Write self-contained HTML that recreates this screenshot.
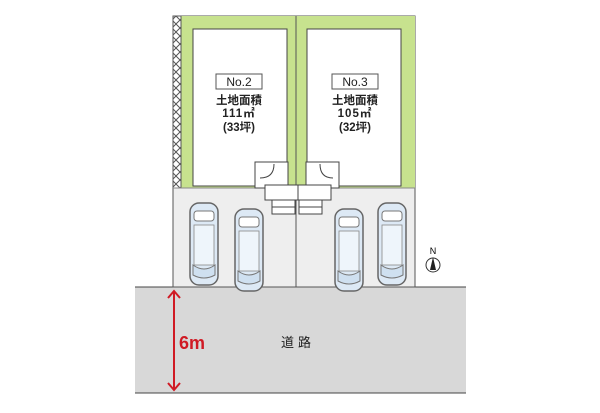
<!DOCTYPE html><html><head><meta charset="utf-8"><style>
body{margin:0;background:#fff;width:600px;height:408px;overflow:hidden;font-family:"Liberation Sans","Noto Sans CJK JP",sans-serif}
</style></head><body>
<svg width="600" height="408" xmlns="http://www.w3.org/2000/svg">
<defs><pattern id="h" width="8" height="8" patternUnits="userSpaceOnUse"><rect width="8" height="8" fill="#fff"/><path d="M0 0L8 8M8 0L0 8" stroke="#555" stroke-width="1"/></pattern>
<g id="car"><rect x="0" y="0" width="28" height="82" rx="9" fill="#dde9f5" stroke="#666" stroke-width="1.5"/><rect x="4" y="8" width="20" height="10" rx="3" fill="#fff" stroke="#777"/><rect x="4" y="22" width="20" height="40" fill="#eef5fb" stroke="#888" stroke-width="0.8"/><path d="M3 62Q14 70 25 62L25 72Q14 78 3 72Z" fill="#cfe0f0" stroke="#777"/></g></defs>
<rect x="135" y="287" width="331" height="106" fill="#d8d8d8"/>
<line x1="135" y1="287" x2="466" y2="287" stroke="#444"/>
<line x1="135" y1="393" x2="466" y2="393" stroke="#444"/>
<rect x="173" y="16" width="242" height="271" fill="#eeeeee" stroke="#555"/>
<rect x="181" y="16" width="234" height="172" fill="#c7e28e"/>
<rect x="173" y="16" width="8" height="172" fill="url(#h)" stroke="#555"/>
<line x1="173" y1="188" x2="415" y2="188" stroke="#888"/>
<line x1="296" y1="16" x2="296" y2="287" stroke="#555"/>
<rect x="193" y="29" width="94" height="157" fill="#fff" stroke="#444"/>
<rect x="307" y="29" width="94" height="157" fill="#fff" stroke="#444"/>
<g fill="#fff" stroke="#444"><rect x="255" y="162" width="33" height="26"/><rect x="265" y="185" width="33" height="15"/><rect x="272" y="200" width="23" height="14"/><line x1="272" y1="207" x2="295" y2="207"/>
<rect x="306" y="162" width="33" height="26"/><rect x="298" y="185" width="33" height="15"/><rect x="299" y="200" width="23" height="14"/><line x1="299" y1="207" x2="322" y2="207"/></g>
<path d="M260 178Q274 178 274 164" fill="none" stroke="#444"/><path d="M333 178Q320 178 320 164" fill="none" stroke="#444"/>
<use href="#car" x="190" y="203"/><use href="#car" x="235" y="209"/><use href="#car" x="335" y="209"/><use href="#car" x="378" y="203"/>
<g font-size="12" text-anchor="middle" fill="#222"><rect x="216" y="74" width="46" height="15" fill="#fff" stroke="#555"/><text x="239" y="86">No.2</text>
<rect x="332" y="74" width="46" height="15" fill="#fff" stroke="#555"/><text x="355" y="86">No.3</text>
<g font-weight="bold" font-size="11.5"><text x="239" y="104">土地面積</text><text x="239" y="117" letter-spacing="1">111㎡</text><text x="239" y="131">(33坪)</text>
<text x="355" y="104">土地面積</text><text x="355" y="117" letter-spacing="1">105㎡</text><text x="355" y="131">(32坪)</text></g></g>
<text x="433" y="254" font-size="9" text-anchor="middle">N</text><circle cx="433" cy="265" r="7" fill="#fff" stroke="#333"/><path d="M433 257L436 270L430 270Z" fill="#222"/>
<line x1="174" y1="292" x2="174" y2="389" stroke="#d01a24" stroke-width="2"/>
<path d="M168 298L174 291L180 298M168 383L174 390L180 383" fill="none" stroke="#d01a24" stroke-width="2"/>
<text x="179" y="349" font-size="18" font-weight="bold" fill="#d01a24">6m</text>
<text x="298" y="347" font-size="13" text-anchor="middle" fill="#222" letter-spacing="4">道路</text>
</svg></body></html>
